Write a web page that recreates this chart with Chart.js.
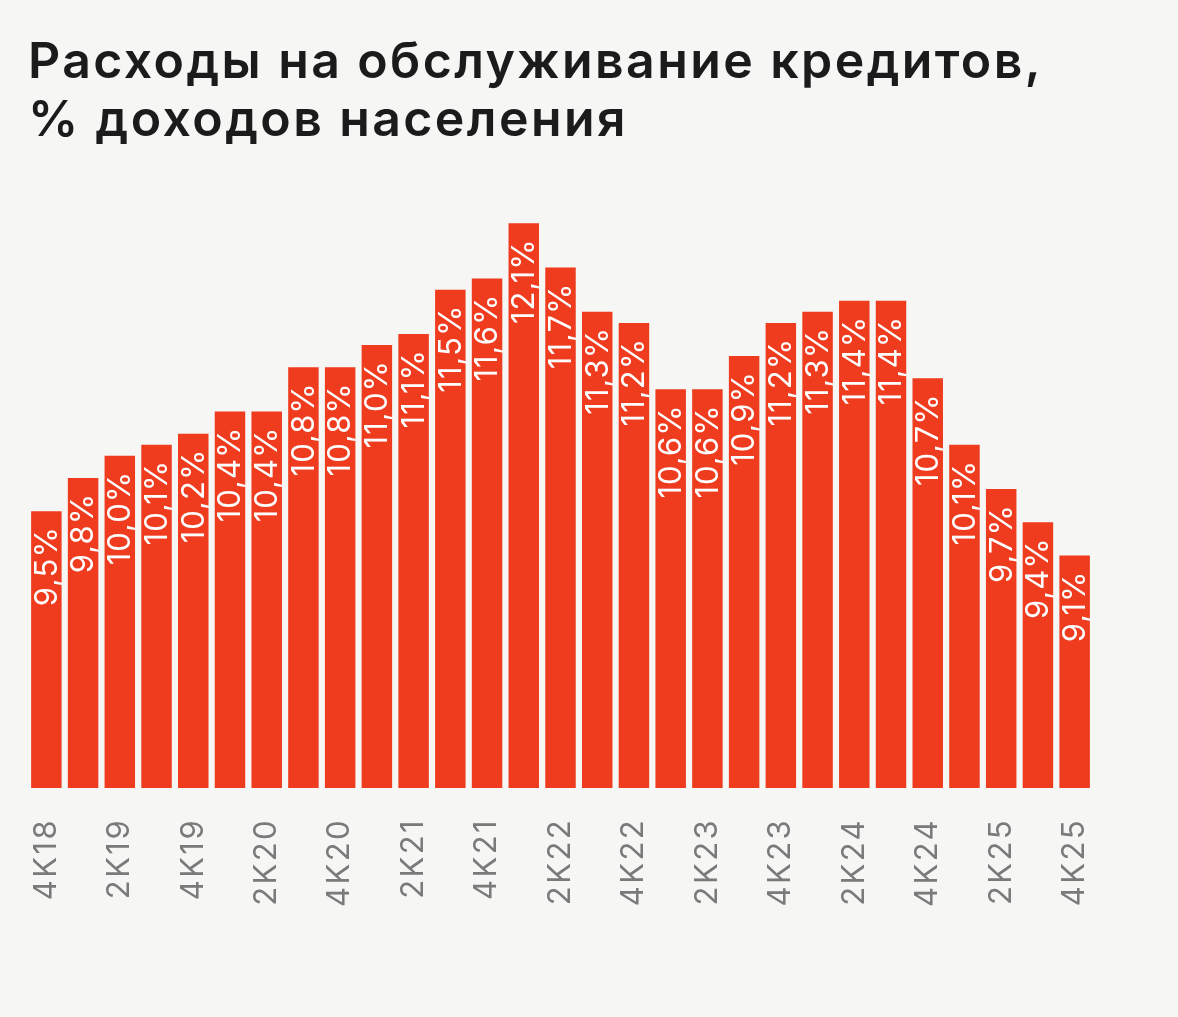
<!DOCTYPE html>
<html lang="ru">
<head>
<meta charset="utf-8">
<title>Расходы на обслуживание кредитов</title>
<script src="https://cdn.jsdelivr.net/npm/chart.js@4.4.0/dist/chart.umd.min.js"></script>
<style>
  html, body { margin: 0; padding: 0; background: #f6f6f5; }
  #wrap { width: 1178px; height: 1017px; position: relative; }
</style>
</head>
<body>
<div id="wrap"><canvas id="debt-chart"></canvas></div>
<script>
// quarters, 4K18 .. 4K25
const quarters = [
  '4K18', '1K19', '2K19', '3K19', '4K19', '1K20', '2K20', '3K20', '4K20',
  '1K21', '2K21', '3K21', '4K21', '1K22', '2K22', '3K22', '4K22',
  '1K23', '2K23', '3K23', '4K23', '1K24', '2K24', '3K24', '4K24',
  '1K25', '2K25', '3K25', '4K25'
];

// debt service, % of household income
const serviceShare = [
  9.5, 9.8, 10.0, 10.1, 10.2, 10.4, 10.4, 10.8, 10.8,
  11.0, 11.1, 11.5, 11.6, 12.1, 11.7, 11.3, 11.2,
  10.6, 10.6, 10.9, 11.2, 11.3, 11.4, 11.4, 10.7,
  10.1, 9.7, 9.4, 9.1
];

const titleLines = ['Расходы на обслуживание кредитов,', '% доходов населения'];

const fmt = v => v.toFixed(1).replace('.', ',') + '%';

// wider tracking for the title only (title is drawn before the datasets,
// the x axis is moved to z:1 so it is drawn after the reset)
const titleSpacing = {
  id: 'titleSpacing',
  beforeDraw(chart) { chart.ctx.letterSpacing = '2.4px'; },
  beforeDatasetsDraw(chart) { chart.ctx.letterSpacing = '0px'; }
};

// rotated value labels inside the top of each bar
const barLabels = {
  id: 'barLabels',
  afterDatasetsDraw(chart) {
    const ctx = chart.ctx;
    const meta = chart.getDatasetMeta(0);
    ctx.save();
    ctx.fillStyle = '#ffffff';
    ctx.font = '400 31px Inter, sans-serif';
    ctx.letterSpacing = '1px';
    ctx.textAlign = 'right';
    ctx.textBaseline = 'middle';
    meta.data.forEach((bar, i) => {
      ctx.save();
      ctx.translate(bar.x + 1, bar.y + 15);
      ctx.rotate(-Math.PI / 2);
      ctx.fillText(fmt(serviceShare[i]), 0, 0);
      ctx.restore();
    });
    ctx.restore();
  }
};

const config = {
  type: 'bar',
  data: {
    labels: quarters,
    datasets: [{
      data: serviceShare,
      backgroundColor: '#ef3b1e',
      borderWidth: 0,
      barPercentage: 0.83,
      categoryPercentage: 1.0
    }]
  },
  options: {
    responsive: true,
    maintainAspectRatio: false,
    animation: false,
    layout: { padding: { left: 28, right: 85, top: 0, bottom: 0 } },
    plugins: {
      legend: { display: false },
      tooltip: { enabled: false },
      title: {
        display: true,
        text: titleLines,
        align: 'start',
        color: '#1b1b1b',
        font: { family: 'Inter, sans-serif', size: 50, weight: '600', lineHeight: '58px' },
        padding: { top: 34, bottom: 40 }
      }
    },
    scales: {
      x: {
        z: 1,
        grid: { display: false },
        border: { display: false },
        ticks: {
          autoSkip: false,
          minRotation: 90,
          maxRotation: 90,
          padding: 22,
          color: '#7a7a7a',
          font: { family: 'Inter, sans-serif', size: 31, weight: '400' },
          callback: function(val, idx) {
            return idx % 2 === 0 ? quarters[idx] : '';
          }
        },
        afterFit: function(scale) { scale.height = 229; }
      },
      y: {
        display: false,
        min: 7,
        max: 12.4
      }
    }
  },
  plugins: [titleSpacing, barLabels]
};

new Chart(document.getElementById('debt-chart'), config);
</script>
</body>
</html>
